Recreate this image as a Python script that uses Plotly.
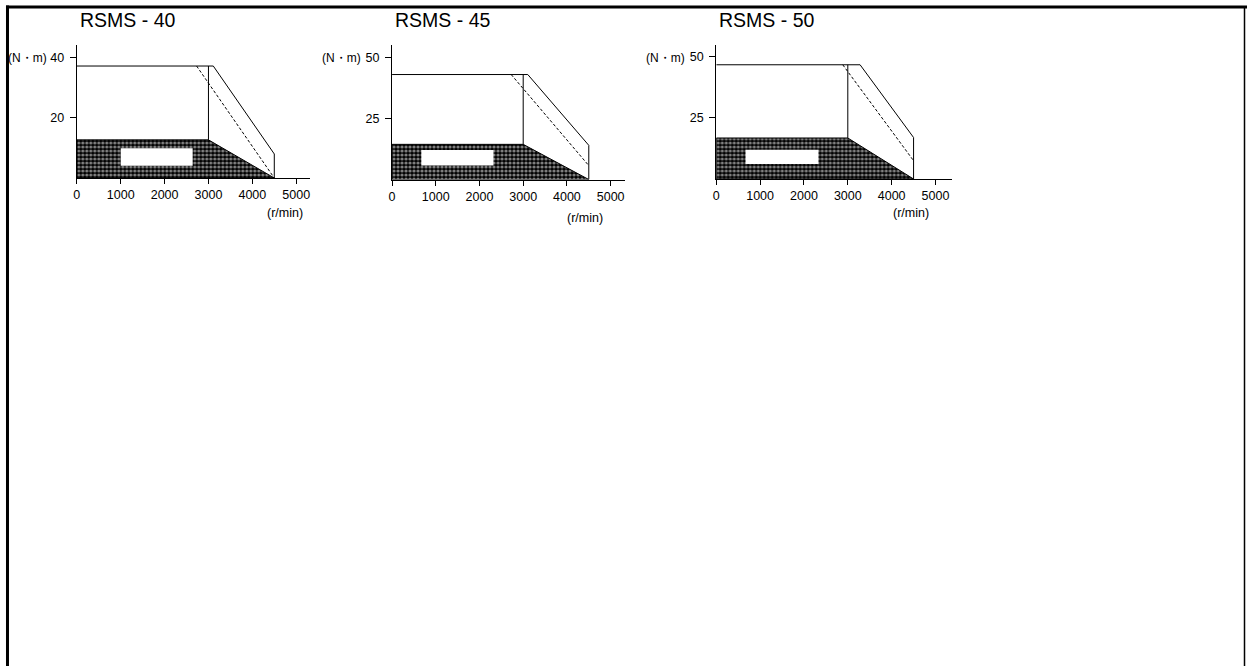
import plotly.graph_objects as go

W, H = 1247, 666

# ---- data ----
titles = ["RSMS - 40", "RSMS - 45", "RSMS - 50"]
y_ticks = [[20, 40], [25, 50], [25, 50]]
x_ticks = [0, 1000, 2000, 3000, 4000, 5000]
x_max = [5320, 5340, 5370]
y_max = [44.3, 55.1, 54.9]

max_torque = [37.3, 43.0, 46.8]          # flat peak torque
corner_speed = [3110, 3105, 3280]        # where solid line starts to fall
end_torque = [8.0, 14.0, 17.0]           # solid line value at max speed
dash_start = [2730, 2725, 2885]          # dashed line start speed
dash_end = [0.0, 5.7, 7.5]               # dashed line value at max speed
max_speed = [4500, 4500, 4500]
rated_speed = [3000, 3000, 3000]
rated_torque = [12.7, 14.4, 16.8]        # hatched (continuous) region height
box_x = [[1000, 2640], [670, 2320], [668, 2330]]
box_y = [[4.1, 9.9], [5.7, 12.1], [6.1, 12.0]]

# ---- layout geometry (pixels) ----
px_x = [(74, 308), (390, 624), (715, 951)]
px_y = [(45, 178), (45, 179.5), (45, 179)]
unit_lbl_x = [46, 361, 686]
rmin_x = [303, 603, 930]
rmin_y = [213, 218, 213]

def fx(p):
    return p / W

def fy(p):
    return 1 - p / H

FONT = "Liberation Sans, Arial, sans-serif"
GAP = "\u2005"

fig = go.Figure()
layout = dict(
    width=W, height=H, margin=dict(l=0, r=0, t=0, b=0),
    paper_bgcolor="white", plot_bgcolor="rgba(0,0,0,0)",
    showlegend=False, font=dict(family=FONT, color="black", size=12.5),
)
annotations = []

for i in range(3):
    xa = "x" if i == 0 else f"x{i+1}"
    ya = "y" if i == 0 else f"y{i+1}"
    xkey = "xaxis" if i == 0 else f"xaxis{i+1}"
    ykey = "yaxis" if i == 0 else f"yaxis{i+1}"
    layout[xkey] = dict(
        domain=[fx(px_x[i][0]), fx(px_x[i][1])], range=[0, x_max[i]],
        anchor=ya, showgrid=False, zeroline=False, showline=True,
        linecolor="black", linewidth=1, ticks="outside", ticklen=5,
        tickcolor="black", tickwidth=1, tickvals=x_ticks,
        ticktext=[str(v) for v in x_ticks], tickfont=dict(size=12.5),
        fixedrange=True,
    )
    layout[ykey] = dict(
        domain=[fy(px_y[i][1]), fy(px_y[i][0])], range=[0, y_max[i]],
        anchor=xa, showgrid=False, zeroline=False, showline=True,
        linecolor="black", linewidth=1, ticks="outside", ticklen=6,
        tickcolor="black", tickwidth=1, tickvals=y_ticks[i],
        ticktext=[str(v) + GAP for v in y_ticks[i]], tickfont=dict(size=12.5),
        fixedrange=True,
    )

    # hatched continuous region
    fig.add_trace(go.Scatter(
        x=[0, 0, rated_speed[i], max_speed[i], 0],
        y=[0, rated_torque[i], rated_torque[i], 0, 0],
        mode="lines", fill="toself", fillcolor="black",
        fillpattern=dict(shape=".", fgcolor="white", bgcolor="black",
                         size=4, solidity=0.5),
        line=dict(color="black", width=1), xaxis=xa, yaxis=ya,
        hoverinfo="skip",
    ))
    # white label box
    fig.add_trace(go.Scatter(
        x=[box_x[i][0], box_x[i][1], box_x[i][1], box_x[i][0], box_x[i][0]],
        y=[box_y[i][0], box_y[i][0], box_y[i][1], box_y[i][1], box_y[i][0]],
        mode="lines", fill="toself", fillcolor="white",
        line=dict(color="white", width=0), xaxis=xa, yaxis=ya,
        hoverinfo="skip",
    ))
    # peak torque outline
    fig.add_trace(go.Scatter(
        x=[0, corner_speed[i], max_speed[i], max_speed[i]],
        y=[max_torque[i], max_torque[i], end_torque[i], 0],
        mode="lines", line=dict(color="black", width=1),
        xaxis=xa, yaxis=ya, hoverinfo="skip",
    ))
    # dashed line
    fig.add_trace(go.Scatter(
        x=[dash_start[i], max_speed[i]],
        y=[max_torque[i], dash_end[i]],
        mode="lines", line=dict(color="black", width=1, dash="3px,2px"),
        xaxis=xa, yaxis=ya, hoverinfo="skip",
    ))
    # vertical at rated speed
    fig.add_trace(go.Scatter(
        x=[rated_speed[i], rated_speed[i]],
        y=[max_torque[i], rated_torque[i]],
        mode="lines", line=dict(color="black", width=1),
        xaxis=xa, yaxis=ya, hoverinfo="skip",
    ))

    annotations.append(dict(
        text=titles[i], x=fx(px_x[i][0] + 1), y=fy(20), xref="paper",
        yref="paper", xanchor="left", yanchor="middle", showarrow=False,
        font=dict(size=19.5, family=FONT),
    ))
    annotations.append(dict(
        text="(N・m)", x=fx(unit_lbl_x[i]), y=fy(58), xref="paper",
        yref="paper", xanchor="right", yanchor="middle", showarrow=False,
        font=dict(size=12, family=FONT),
    ))
    annotations.append(dict(
        text="(r/min)", x=fx(rmin_x[i]), y=fy(rmin_y[i]), xref="paper",
        yref="paper", xanchor="right", yanchor="middle", showarrow=False,
        font=dict(size=12.5, family=FONT),
    ))

layout["annotations"] = annotations
layout["shapes"] = [
    dict(type="line", xref="paper", yref="paper", x0=fx(3), x1=fx(1247),
         y0=fy(7), y1=fy(7), line=dict(color="black", width=3)),
    dict(type="line", xref="paper", yref="paper", x0=fx(4.5), x1=fx(4.5),
         y0=fy(5.5), y1=fy(666), line=dict(color="black", width=3)),
    dict(type="line", xref="paper", yref="paper", x0=fx(1244.5), x1=fx(1244.5),
         y0=fy(7), y1=fy(666), line=dict(color="black", width=1.5)),
]
fig.update_layout(**layout)
fig.write_html("out.html")
